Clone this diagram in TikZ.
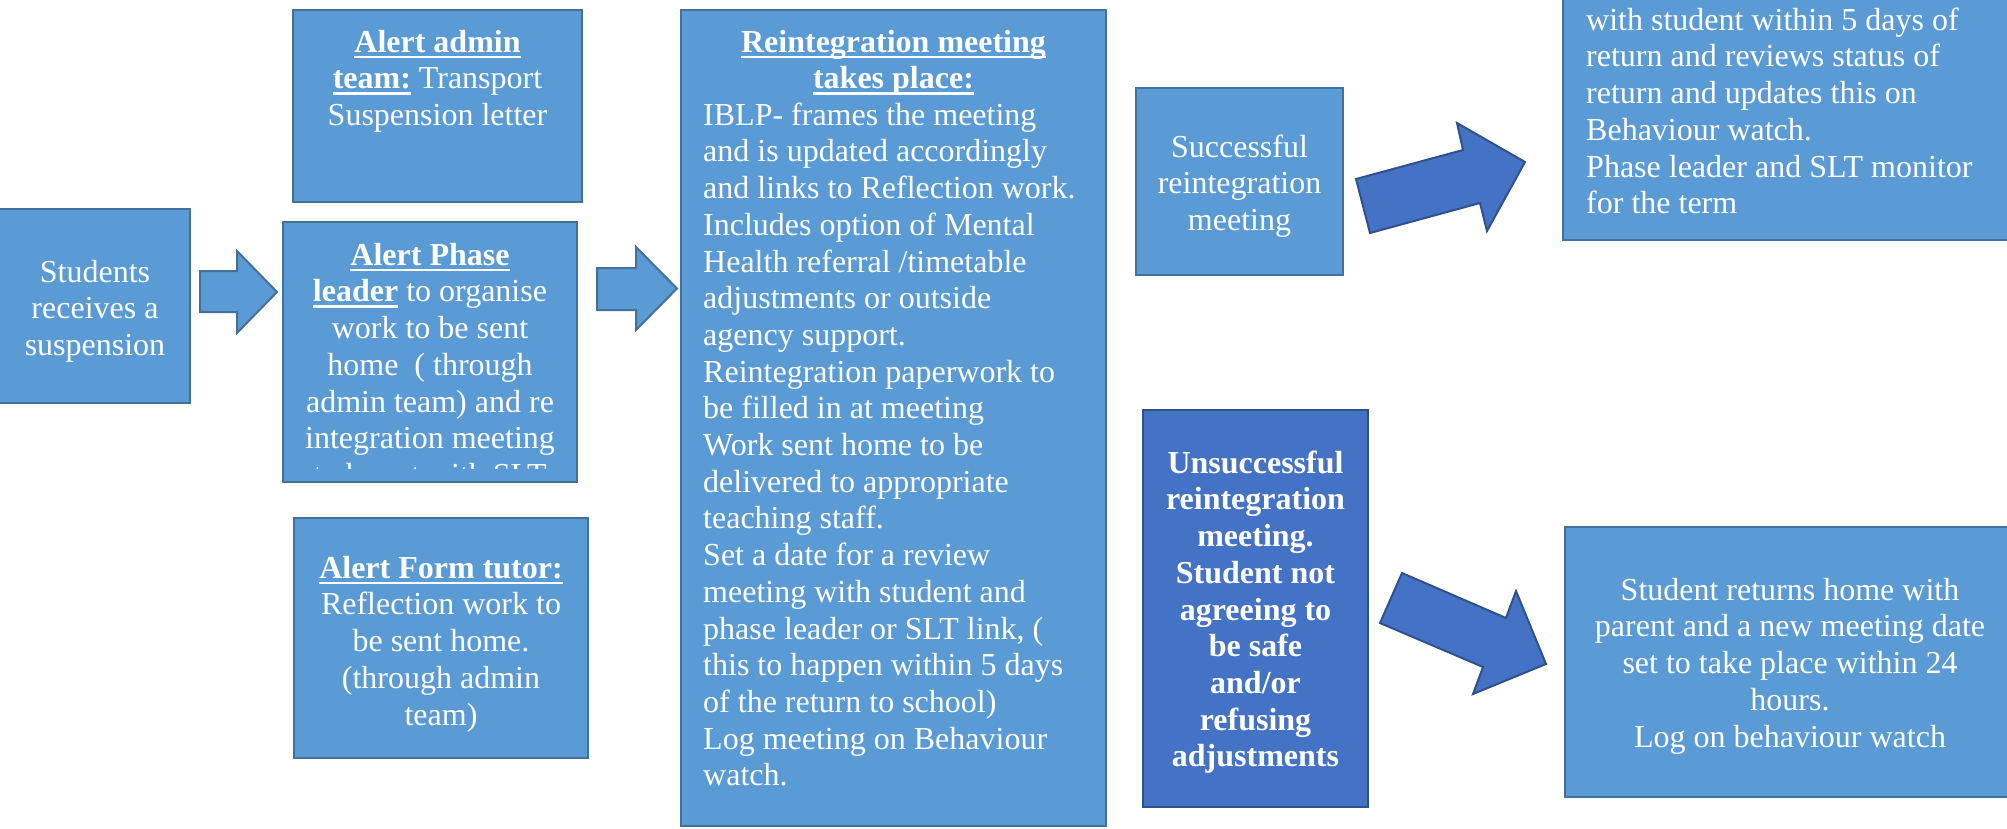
\documentclass[tikz,border=0pt]{standalone}
\usepackage{fontspec}
\setmainfont{Liberation Serif}
\definecolor{lblue}{HTML}{5B9BD5}
\definecolor{lbord}{HTML}{41719C}
\definecolor{dblue}{HTML}{4472C4}
\definecolor{dbord}{HTML}{2F528F}
\newcommand\fs{\fontsize{32pt}{36.7pt}\selectfont\lineskiplimit=-20pt\relax}
\newcommand\fl{\rule{0pt}{30pt}}
\newcommand\myul[1]{\setbox0=\hbox{\textbf{#1}}\rlap{\rule[-6pt]{\wd0}{2.5pt}}\box0}
\begin{document}
\begin{tikzpicture}[x=1pt,y=-1pt,
 box/.style={draw=lbord, fill=lblue, line width=2pt, inner sep=0pt, outer sep=0pt, anchor=north west},
 dbox/.style={box, draw=dbord, fill=dblue},
 txt/.style={text=white, inner sep=0pt, font=\fs, align=center, anchor=north},
 ltxt/.style={txt, align=left, anchor=north west},
 blockarrow/.style={draw=lbord, fill=lblue, line width=2pt, line join=miter},
 dblockarrow/.style={blockarrow, draw=dbord, fill=dblue}]
\useasboundingbox (0,0) rectangle (2007,828);

% boxes
\node[box, minimum width=194pt, minimum height=194pt] (students) at (-4,209) {};
\node[box, minimum width=289pt, minimum height=192pt] (admin) at (293,10) {};
\node[box, minimum width=294pt, minimum height=260pt] (phase) at (283,222) {};
\node[box, minimum width=294pt, minimum height=240pt] (tutor) at (294,518) {};
\node[box, minimum width=425pt, minimum height=816pt] (reint) at (681,10) {};
\node[box, minimum width=207pt, minimum height=187pt] (succ) at (1136,88) {};
\node[box, minimum width=452pt, minimum height=300pt] (topright) at (1563,-60) {};
\node[dbox, minimum width=225pt, minimum height=397pt] (unsucc) at (1143,410) {};
\node[box, minimum width=450pt, minimum height=270pt] (botright) at (1565,527) {};

% block arrows
\draw[blockarrow] (200,271) -- (237,271) -- (237,251) -- (277,292) -- (237,333) -- (237,312) -- (200,312) -- cycle;
\draw[blockarrow] (597,268) -- (636,268) -- (636,247) -- (677,288.5) -- (636,330) -- (636,310) -- (597,310) -- cycle;
\draw[dblockarrow] (1356,179) -- (1463,150) -- (1457,123) -- (1525,162) -- (1487,231) -- (1480,203) -- (1370,233) -- cycle;
\draw[dblockarrow] (1402,573) -- (1506,618) -- (1516,591) -- (1546,664) -- (1473,694) -- (1483,667) -- (1380,623) -- cycle;

% texts
\node[txt] (students-t) at (95,252) {\fl Students\\receives a\\suspension};
\node[txt] (admin-t) at (437.5,22) {\fl\myul{Alert admin}\\\myul{team:}\ Transport\\Suspension letter};
\begin{scope}
\clip (283,222) rectangle (577,468);
\node[txt] (phase-t) at (430,235) {\fl\myul{Alert Phase}\\\myul{leader}\ to organise\\work to be sent\\home~~( through\\admin team) and re\\integration meeting\\to be set with SLT};
\end{scope}
\node[txt] (tutor-t) at (441,548) {\fl\myul{Alert Form tutor:}\\Reflection work to\\be sent home.\\(through admin\\team)};
\node[txt] (reint-h) at (893.5,22) {\fl\myul{Reintegration meeting}\\\myul{takes place:}};
\node[ltxt] (reint-t) at (703,95) {\fl IBLP- frames the meeting\\and is updated accordingly\\and links to Reflection work.\\Includes option of Mental\\Health referral /timetable\\adjustments or outside\\agency support.\\Reintegration paperwork to\\be filled in at meeting\\Work sent home to be\\delivered to appropriate\\teaching staff.\\Set a date for a review\\meeting with student and\\phase leader or SLT link, (\\this to happen within 5 days\\of the return to school)\\Log meeting on Behaviour\\watch.};
\node[txt] (succ-t) at (1239.5,127) {\fl Successful\\reintegration\\meeting};
\node[ltxt] (topright-t) at (1586,0) {\fl with student within 5 days of\\return and reviews status of\\return and updates this on\\Behaviour watch.\\Phase leader and SLT monitor\\for the term};
\node[txt, font=\fs\bfseries] (unsucc-t) at (1255.5,443) {\fl Unsuccessful\\reintegration\\meeting.\\Student not\\agreeing to\\be safe\\and/or\\refusing\\adjustments};
\node[txt] (botright-t) at (1790,570) {\fl Student returns home with\\parent and a new meeting date\\set to take place within 24\\hours.\\Log on behaviour watch};
\end{tikzpicture}
\end{document}
